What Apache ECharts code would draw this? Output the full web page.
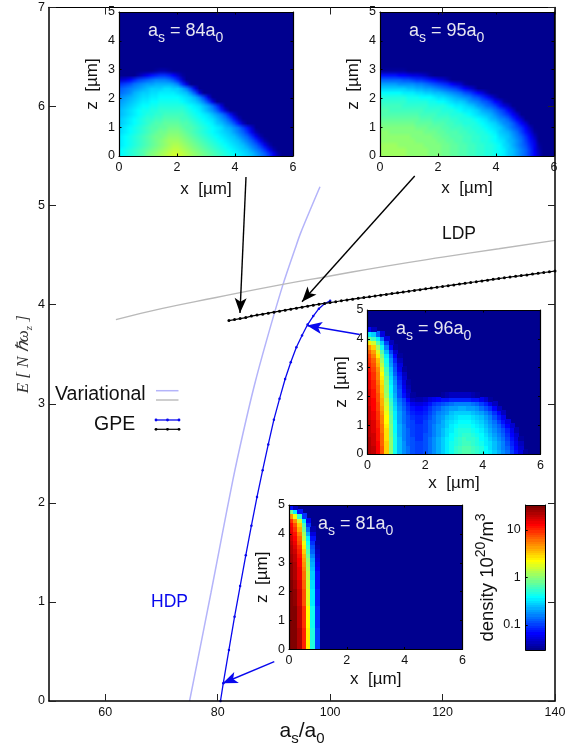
<!DOCTYPE html>
<html><head><meta charset="utf-8">
<style>html,body{margin:0;padding:0;background:#fff}#c{width:566px;height:747px}</style>
<script src="https://cdn.jsdelivr.net/npm/echarts@6/dist/echarts.min.js"></script>
</head><body><div id="c"></div>
<script>
// ---- main curves (scattering length a_s/a_0, energy)
const variationalHdpX=[75,76.4,78.8,80.7,82.7,84.5,86.5,88.7,91.6,93.8,94.8,98.2];
const variationalHdpY=[0,0.4,1.09,1.65,2.23,2.7,3.18,3.64,4.2,4.57,4.73,5.19];
const variationalLdpX=[61.9,70,79.5,91.1,100,110,120,130,140];
const variationalLdpY=[3.85,3.96,4.07,4.2,4.29,4.39,4.48,4.565,4.65];
const gpeHdpX=[80.5,81,82,83,84,85,86,87,88,89,90,91,92,93,94,95,96,97,98,99,100];
const gpeHdpY=[0,0.18,0.515,0.85,1.16,1.47,1.77,2.06,2.33,2.59,2.84,3.05,3.25,3.42,3.57,3.69,3.8,3.885,3.96,4.01,4.04];
const gpeLdpX=[82,83,84,85,86,87,88,89,90,91,92,93,94,95,96,97,98,99,100,101,102,103,104,105,106,107,108,109,110,111,112,113,114,115,116,117,118,119,120,121,122,123,124,125,126,127,128,129,130,131,132,133,134,135,136,137,138,139,140];
const gpeLdpY=[3.84,3.85,3.86,3.87,3.885,3.895,3.905,3.915,3.925,3.935,3.945,3.955,3.965,3.975,3.985,3.995,4.005,4.013,4.022,4.03,4.04,4.048,4.056,4.064,4.072,4.08,4.088,4.096,4.104,4.112,4.12,4.128,4.136,4.144,4.152,4.16,4.168,4.176,4.184,4.192,4.2,4.208,4.216,4.224,4.232,4.24,4.248,4.256,4.264,4.272,4.28,4.287,4.294,4.301,4.309,4.317,4.325,4.332,4.34];
const xTicks=[60,80,100,120,140];
const colorbarTickExponents=[-1,0,1];
const colorbarTickLabels=['0.1','1','10'];
const colorbarLevels=[0,1,2,3,4,5,6,7,8,9,10,11,12,13,14,15,16,17,18,19,20,21,22,23,24,25,26,27,28,29,30,31,32,33,34,35,36,37,38,39,40,41,42,43,44,45,46,47,48,49,50,51,52,53,54,55,56,57,58,59,60,61,62,63];
// ---- arrows: [from a_s, from E, to a_s, to E]
const blackArrows=[[85.04,5.29,83.97,3.916],[115.05,5.30,95.0,4.03]];
const blueArrows=[[105.27,3.70,95.9,3.79],[90.07,0.397,80.9,0.179]];
// ---- density maps: colour level (0..63) per row from z=0 upward, per column from x=0; omitted cells are level 0
const density84=[
[23,24,25,26,27,28,30,31,32,33,34,35,36,36,35,34,33,32,31,30,29,28,27,26,25,24,23,22,21,20,19,17,15,13,10,6,2],
[23,24,25,26,27,28,29,30,31,32,33,34,35,35,34,33,32,31,30,29,28,27,26,25,24,23,22,21,20,19,17,15,13,10,6,2],
[22,23,24,25,26,27,28,29,30,31,32,33,34,34,33,32,31,30,29,28,27,26,25,24,23,22,21,20,19,17,15,13,10,6,2],
[22,23,24,25,26,27,28,29,30,31,32,33,33,33,32,31,30,29,28,27,26,25,24,23,22,21,20,19,17,15,13,10,6,2],
[22,23,24,25,26,27,28,29,30,30,31,32,32,32,31,30,29,28,27,26,25,24,23,22,21,20,19,17,15,13,10,6,2],
[21,22,23,24,25,26,27,28,29,30,30,31,31,31,30,29,28,27,26,25,24,23,22,21,20,19,17,15,13,10,6,2],
[21,22,23,24,25,26,27,28,28,29,29,30,30,30,29,28,28,27,26,25,24,23,22,21,19,18,16,14,11,8,4],
[20,21,22,23,24,25,26,27,28,28,29,29,29,29,28,28,27,26,25,24,23,22,20,19,17,15,12,8,3],
[20,21,22,23,24,25,26,26,27,27,28,28,28,28,27,27,26,25,24,23,22,21,19,17,15,12,8,3],
[19,20,21,22,23,24,25,25,26,26,27,27,27,27,27,26,25,24,23,22,21,19,17,15,12,8,3],
[19,20,21,22,23,24,24,25,25,26,26,26,26,26,26,25,24,23,22,20,18,16,13,9,4],
[18,19,20,21,22,23,23,24,24,25,25,25,25,25,25,24,23,22,21,19,17,14,10,5],
[17,18,19,20,21,22,22,23,23,24,24,24,24,24,23,22,21,20,18,15,11,5],
[16,17,18,19,20,21,21,22,22,23,23,23,23,23,22,21,20,18,15,11,5],
[14,15,16,18,19,20,20,21,21,22,22,22,22,21,20,19,16,12,5],
[13,14,15,16,17,18,19,20,20,20,21,21,20,20,18,15,11,5],
[10,11,12,14,15,16,17,17,18,18,18,18,17,15,10,5],
[4,5,7,9,11,12,13,14,15,15,15,14,12,9,4],
[0,0,0,0,2,4,6,8,9,10,10,9,7,4,1],
[0,0,0,0,0,0,0,0,1,2,2,1]
];
const density95=[
[33,33,33,33,33,33,32,32,32,32,32,31,31,31,30,30,29,29,28,28,27,27,26,26,25,25,24,23,22,20,19,17,15,13,10,7,3],
[33,33,33,33,33,33,32,32,32,32,32,31,31,31,30,30,29,29,28,28,27,27,26,26,25,25,24,23,22,20,19,17,15,13,10,6,2],
[33,33,33,33,32,32,32,32,32,32,31,31,31,31,30,30,29,29,28,28,27,27,26,26,25,25,24,23,21,20,18,16,14,12,9,6,1],
[32,32,32,32,32,32,32,32,31,31,31,31,31,30,30,29,29,28,28,27,27,26,26,25,25,24,23,22,21,19,18,16,14,11,8,5],
[32,32,32,32,32,32,32,31,31,31,31,31,30,30,29,29,28,28,28,27,27,26,26,25,25,24,23,21,20,19,17,15,13,10,7,3],
[32,32,31,31,31,31,31,31,31,31,30,30,30,29,29,28,28,28,27,27,26,26,25,25,24,23,22,20,19,18,16,14,11,8,5,1],
[31,31,31,31,31,31,31,31,30,30,30,29,29,29,28,28,27,27,27,26,26,25,25,24,23,22,21,20,18,16,14,12,10,7,3],
[30,30,30,30,30,30,30,30,29,29,29,29,28,28,28,27,27,26,26,25,25,25,24,23,22,21,20,18,16,15,13,10,7,4],
[29,29,29,29,29,29,29,29,29,28,28,28,27,27,27,27,26,26,25,25,25,24,23,22,21,19,18,16,15,13,10,7,4],
[28,28,28,28,28,28,28,28,28,27,27,27,27,26,26,26,25,25,25,24,23,22,21,20,19,18,16,14,12,10,7,4],
[28,28,27,27,27,27,27,27,27,27,26,26,26,26,25,25,25,24,23,22,22,21,20,18,17,16,14,12,10,7,4],
[27,27,27,27,27,26,26,26,26,26,26,25,25,25,25,24,23,22,22,21,20,19,17,16,14,13,11,8,5,3],
[26,26,26,26,26,26,25,25,25,25,25,24,24,23,23,22,21,20,20,19,17,16,15,13,12,10,7,5,1],
[25,25,25,25,25,25,24,24,24,23,23,23,22,21,21,20,19,18,17,16,15,13,12,10,8,5,2],
[23,23,23,23,23,22,22,22,21,21,20,20,19,19,18,17,16,15,14,12,11,9,7,5,2],
[20,20,20,20,20,20,19,19,18,18,17,17,16,15,14,13,12,11,9,7,5,3],
[17,17,17,17,16,16,16,16,15,15,14,13,12,11,10,9,7,5,4,1],
[13,13,13,13,13,12,12,11,10,10,9,8,7,5,4,2],
[8,8,8,8,7,7,6,5,5,4,3,1],
[1,1,1,1,1,1]
];
const density96=[
[60,59,55,50,42,32,24,19,16,14,12,11,11,12,14,16,18,20,22,24,26,27,28,28,27,26,25,23,22,20,18,16,14,11,8,5,1],
[60,59,55,50,42,32,24,19,16,14,12,11,11,12,14,16,18,20,22,24,26,27,28,28,27,26,25,23,21,19,17,15,13,10,7,4],
[60,58,55,49,42,32,24,19,16,13,12,11,11,12,14,16,18,20,22,24,25,26,27,27,26,25,24,22,21,19,17,15,12,9,6,3],
[60,58,54,49,41,32,24,19,15,13,12,10,10,12,14,16,18,20,22,23,25,26,27,26,26,25,23,22,20,18,16,14,11,8,5,1],
[59,58,54,49,41,31,24,18,15,13,11,10,10,12,13,15,17,19,21,23,24,25,26,26,25,24,23,21,19,17,15,13,10,7,4],
[59,57,54,48,41,31,23,18,15,13,11,10,10,11,13,15,17,19,21,22,24,25,25,25,24,23,22,20,18,16,14,12,9,6,2],
[59,57,53,48,40,31,23,18,15,12,11,10,10,11,13,15,17,18,20,22,23,24,24,24,23,22,21,19,17,15,13,10,7,4],
[59,57,53,47,39,30,23,17,14,12,11,9,9,11,13,14,16,18,20,21,22,23,23,23,22,21,20,18,16,14,11,8,5],
[58,56,52,47,39,30,22,17,14,12,10,9,9,10,12,14,16,17,19,20,21,22,22,22,21,20,19,17,15,12,9,6],
[58,56,52,46,38,29,22,17,14,11,9,8,8,9,11,13,15,16,17,19,20,20,20,20,19,18,17,15,13,10,7,3],
[58,55,51,45,37,28,21,16,13,10,8,7,7,8,10,12,13,15,16,17,17,18,18,17,17,16,14,12,10,7,3],
[57,55,51,44,36,27,20,15,12,9,6,5,5,6,8,10,11,12,13,14,15,15,15,15,14,13,11,9,6,3],
[57,55,50,44,35,26,19,14,11,7,3,2,2,3,5,6,7,8,8,9,9,9,9,9,8,8,6,4,1],
[57,54,50,43,33,24,18,12,8,4,1,0,0,0,0,0,0,1,2,3,3,3,3,3,2,1],
[57,54,49,42,32,23,17,12,7,3],
[56,53,49,42,32,23,17,11,6,2],
[56,53,48,41,31,22,16,10,5,1],
[55,52,47,40,30,21,15,9,4],
[55,52,47,39,28,20,13,8,3],
[54,51,46,37,27,19,12,6,1],
[53,50,44,35,25,17,11,5],
[52,49,43,33,24,16,9,3],
[51,47,40,31,22,14,7,1],
[49,45,37,28,19,11,4],
[46,42,33,24,15,7,1],
[40,36,28,20,11,3],
[30,27,22,14,5],
[22,20,13,5],
[7,3]
];
const density81=[
[63,63,60,53,40,25,11],[63,63,60,53,40,25,11],[63,63,60,53,40,25,11],[63,63,60,53,40,25,11],[63,63,60,53,40,25,11],
[63,63,59,52,39,24,10],[63,63,59,52,39,24,10],[63,63,59,52,39,24,10],[63,63,59,52,39,24,10],[63,63,59,52,39,24,10],
[63,62,58,50,37,22,9],[63,62,58,50,37,22,9],[63,62,58,50,37,22,9],[63,62,58,50,37,22,9],
[63,61,57,49,36,21,8],[63,61,57,49,36,21,8],
[62,60,56,48,35,20,8],[62,60,56,48,35,20,8],
[62,60,56,47,34,19,7],[62,60,55,46,33,18,6],[61,59,55,45,32,17,5],[61,59,54,44,30,15,4],[60,58,53,42,28,13,3],[60,57,52,40,26,12,2],
[59,56,50,38,24,10,1],[58,55,49,35,22,8],[57,54,47,33,18,5],[56,52,44,30,14,2],[55,50,42,28,10],[52,46,36,22,6],[46,38,26,10],[30,22,8],[8,3]
];

// ---- layout & style
const fontSans='"Liberation Sans", Arial, sans-serif';
const insets=[
 {rows:density84,smooth:true,left:119,top:12,w:174,h:144,label:'84',labelX:148,labelY:22,nameGap:25},
 {rows:density95,smooth:true,left:380,top:12,w:174,h:144,label:'95',labelX:409,labelY:22,nameGap:24},
 {rows:density96,smooth:false,left:367.5,top:310,w:173,h:144,label:'96',labelX:396,labelY:320,nameGap:21},
 {rows:density81,smooth:false,left:289,top:505,w:173.5,h:144.5,label:'81',labelX:318,labelY:515,nameGap:21}
];
const COLS=40, ROWS=33, CELL_DX=6/COLS, CELL_DZ=5/ROWS;
function jet(L){
  const v=(L+1)/64;
  const c=(a)=>Math.round(255*Math.max(0,Math.min(1,a)));
  return 'rgb('+c(Math.min(4*v-1.5,-4*v+4.5))+','+c(Math.min(4*v-0.5,-4*v+3.5))+','+c(Math.min(4*v+0.5,-4*v+2.5))+')';
}
const toPairs=(xs,ys)=>xs.map((x,i)=>[x,ys[i]]);
const arrowData=list=>list.map(a=>[{coord:[a[0],a[1]]},{coord:[a[2],a[3]]}]);
function mapCanvas(rows){
  const cv=document.createElement('canvas'); cv.width=COLS; cv.height=ROWS;
  const g=cv.getContext('2d');
  g.fillStyle=jet(0); g.fillRect(0,0,COLS,ROWS);
  rows.forEach((row,r)=>row.forEach((L,c)=>{ g.fillStyle=jet(L); g.fillRect(c,ROWS-1-r,1,1); }));
  return cv;
}

const grid=[{left:49,top:7.5,width:506,height:693.5,outerBoundsMode:'none'}];
const xAxis=[
 {gridIndex:0,type:'value',min:50,max:140,position:'bottom',z:6,splitLine:{show:false},
  axisLine:{onZero:false,lineStyle:{color:'#000',width:1.5}},
  axisTick:{inside:true,length:7,customValues:xTicks,lineStyle:{color:'#222',width:1}},
  axisLabel:{customValues:xTicks,color:'#111',fontFamily:fontSans,fontSize:12.5,margin:5},
  name:'{m|a}{s|s}{m|/a}{s|0}',nameLocation:'middle',nameGap:15,nameMoveOverlap:false,
  nameTextStyle:{rich:{m:{fontFamily:fontSans,fontSize:21,color:'#111',lineHeight:30},s:{fontFamily:fontSans,fontSize:15,color:'#111',verticalAlign:'bottom'}}}},
 {gridIndex:0,type:'value',min:50,max:140,position:'top',z:6,splitLine:{show:false},
  axisLine:{onZero:false,lineStyle:{color:'#000',width:1.2}},
  axisTick:{inside:true,length:7,customValues:xTicks,lineStyle:{color:'#222',width:1}},
  axisLabel:{show:false}}
];
const yAxis=[
 {gridIndex:0,type:'value',min:0,max:7,interval:1,position:'left',z:6,splitLine:{show:false},
  axisLine:{show:true,onZero:false,lineStyle:{color:'#000',width:1.5}},
  axisTick:{show:true,inside:true,length:7,lineStyle:{color:'#222',width:1}},
  axisLabel:{color:'#111',fontFamily:fontSans,fontSize:12.5,margin:4},
  name:'{i|E [ N \u210F\u03C9}{s|z}{i| ]}',nameLocation:'middle',nameGap:14,nameRotate:90,nameMoveOverlap:false,
  nameTextStyle:{rich:{i:{fontFamily:'"Liberation Serif", serif',fontStyle:'italic',fontSize:17,color:'#333',lineHeight:22},s:{fontFamily:'"Liberation Serif", serif',fontStyle:'italic',fontSize:11,color:'#333',verticalAlign:'bottom'}}}},
 {gridIndex:0,type:'value',min:0,max:7,interval:1,position:'right',z:6,splitLine:{show:false},
  axisLine:{show:true,onZero:false,lineStyle:{color:'#000',width:1.5}},
  axisTick:{show:true,inside:true,length:7,lineStyle:{color:'#222',width:1}},
  axisLabel:{show:false}}
];
const series=[
 {type:'line',name:'Variational HDP',xAxisIndex:0,yAxisIndex:0,data:toPairs(variationalHdpX,variationalHdpY),smooth:0.3,showSymbol:false,lineStyle:{color:'#b4b4fa',width:1.5},z:2},
 {type:'line',name:'Variational LDP',xAxisIndex:0,yAxisIndex:0,data:toPairs(variationalLdpX,variationalLdpY),smooth:0.5,showSymbol:false,lineStyle:{color:'#b9b9b9',width:1.4},z:2},
 {type:'line',name:'GPE HDP',xAxisIndex:0,yAxisIndex:0,data:toPairs(gpeHdpX,gpeHdpY),showSymbol:true,symbol:'circle',symbolSize:2.5,itemStyle:{color:'#0808ee'},lineStyle:{color:'#0808ee',width:1.3},z:3,
  markLine:{silent:true,symbol:['none','arrow'],symbolSize:[9,15],label:{show:false},lineStyle:{color:'#0808ee',width:1.4,type:'solid'},data:arrowData(blueArrows)}},
 {type:'line',name:'GPE LDP',xAxisIndex:0,yAxisIndex:0,data:toPairs(gpeLdpX,gpeLdpY),showSymbol:true,symbol:'circle',symbolSize:3,itemStyle:{color:'#000'},lineStyle:{color:'#000',width:1.2},z:3,
  markLine:{silent:true,symbol:['none','arrow'],symbolSize:[9,15],label:{show:false},lineStyle:{color:'#000',width:1.4,type:'solid'},data:arrowData(blackArrows)}}
];
function renderCell(params,api){
  const x=api.value(0), z=api.value(1);
  const a=api.coord([x,z]), b=api.coord([x+CELL_DX,z+CELL_DZ]);
  const L=Math.floor(Math.min(a[0],b[0])), R=Math.ceil(Math.max(a[0],b[0]));
  const T=Math.floor(Math.min(a[1],b[1])), B=Math.ceil(Math.max(a[1],b[1]));
  return {type:'rect',shape:{x:L,y:T,width:R-L,height:B-T},style:{fill:jet(api.value(2))}};
}
function renderSmooth(canvas){
  return (params,api)=>{
    if(params.dataIndex!==0) return null;
    const a=api.coord([0,0]), b=api.coord([6,5]);
    return {type:'image',style:{image:canvas,x:a[0],y:b[1],width:b[0]-a[0],height:a[1]-b[1]}};
  };
}
function insetAxes(gi,nameGap){
  const tick={show:true,inside:true,length:2.5,lineStyle:{color:'#000',width:1}};
  const line={show:true,onZero:false,lineStyle:{color:'#000',width:1.2}};
  const lab={color:'#111',fontFamily:fontSans,fontSize:12.5};
  const unit={fontFamily:fontSans,fontSize:17,color:'#111'};
  xAxis.push({gridIndex:gi,type:'value',min:0,max:6,interval:2,position:'bottom',z:7,splitLine:{show:false},axisLine:line,axisTick:tick,
    axisLabel:Object.assign({margin:5},lab),name:'x  [\u00B5m]',nameLocation:'middle',nameGap:nameGap,nameMoveOverlap:false,nameTextStyle:unit});
  xAxis.push({gridIndex:gi,type:'value',min:0,max:6,interval:2,position:'top',z:7,splitLine:{show:false},axisLine:line,axisTick:tick,axisLabel:{show:false}});
  yAxis.push({gridIndex:gi,type:'value',min:0,max:5,interval:1,position:'left',z:7,splitLine:{show:false},axisLine:line,axisTick:tick,
    axisLabel:Object.assign({margin:4},lab),name:'z  [\u00B5m]',nameLocation:'middle',nameGap:18,nameRotate:90,nameMoveOverlap:false,nameTextStyle:unit});
  yAxis.push({gridIndex:gi,type:'value',min:0,max:5,interval:1,position:'right',z:7,splitLine:{show:false},axisLine:line,axisTick:tick,axisLabel:{show:false}});
}
insets.forEach((ins,i)=>{
  const gi=i+1, xi=xAxis.length, yi=yAxis.length;
  grid.push({left:ins.left,top:ins.top,width:ins.w,height:ins.h,show:true,backgroundColor:jet(0),borderWidth:0,outerBoundsMode:'none'});
  insetAxes(gi,ins.nameGap);
  const data=[];
  ins.rows.forEach((row,r)=>row.forEach((L,c)=>{ if(L>0) data.push([c*CELL_DX,r*CELL_DZ,L]); }));
  series.push({type:'custom',xAxisIndex:xi,yAxisIndex:yi,coordinateSystem:'cartesian2d',data:data,
    renderItem:ins.smooth?renderSmooth(mapCanvas(ins.rows)):renderCell,clip:true,silent:true,z:4,encode:{x:0,y:1}});
});
// colorbar
{
  const gi=grid.length, xi=xAxis.length, yi=yAxis.length;
  grid.push({left:525.7,top:505,width:19.6,height:145,show:false,outerBoundsMode:'none'});
  const edge={show:true,onZero:false,lineStyle:{color:'#000',width:1}};
  xAxis.push({gridIndex:gi,type:'value',min:0,max:1,position:'bottom',z:7,splitLine:{show:false},axisLine:edge,axisTick:{show:false},axisLabel:{show:false}});
  xAxis.push({gridIndex:gi,type:'value',min:0,max:1,position:'top',z:7,splitLine:{show:false},axisLine:edge,axisTick:{show:false},axisLabel:{show:false}});
  yAxis.push({gridIndex:gi,type:'value',min:-1.525,max:1.525,position:'left',z:7,splitLine:{show:false},axisLine:edge,
    axisTick:{show:true,inside:true,length:2,customValues:colorbarTickExponents,lineStyle:{color:'#000'}},
    axisLabel:{customValues:colorbarTickExponents,margin:5,color:'#111',fontFamily:fontSans,fontSize:12.5,
      formatter:v=>colorbarTickLabels[colorbarTickExponents.indexOf(v)]},
    name:'{m|density 10}{u|20}{m|/m}{u|3}',nameLocation:'middle',nameGap:24,nameRotate:90,nameMoveOverlap:false,
    nameTextStyle:{rich:{m:{fontFamily:fontSans,fontSize:18.5,color:'#111',lineHeight:28},u:{fontFamily:fontSans,fontSize:14,color:'#111',verticalAlign:'top'}}}});
  yAxis.push({gridIndex:gi,type:'value',min:0,max:64,position:'right',z:7,splitLine:{show:false},axisLine:edge,axisTick:{show:false},axisLabel:{show:false}});
  series.push({type:'custom',xAxisIndex:xi,yAxisIndex:yi+1,coordinateSystem:'cartesian2d',silent:true,z:4,clip:true,
    data:colorbarLevels.map(L=>[L]),encode:{y:0},
    renderItem:(p,api)=>{const L=api.value(0),a=api.coord([0,L]),b=api.coord([1,L+1]);
      return {type:'rect',shape:{x:a[0],y:Math.floor(b[1]),width:b[0]-a[0],height:Math.ceil(a[1])-Math.floor(b[1])},style:{fill:jet(L)}};}});
}
// annotations
const annotationRich={m:{fontFamily:fontSans,fontSize:18,fill:'#e6e6f0',lineHeight:28},s:{fontFamily:fontSans,fontSize:14,fill:'#e6e6f0',verticalAlign:'bottom'}};
const graphic=[];
insets.forEach(ins=>graphic.push({type:'text',left:ins.labelX,top:ins.labelY,z:20,style:{text:'{m|a}{s|s}{m| = '+ins.label+'a}{s|0}',rich:annotationRich}}));
const plain=(text,x,y,size,fill)=>({type:'text',x:x,y:y,z:20,style:{text:text,fontFamily:fontSans,fontSize:size,fill:fill}});
graphic.push(plain('LDP',442,225,17.5,'#111'));
graphic.push(plain('HDP',151,593,17.5,'#0808ee'));
graphic.push(plain('Variational',55,385,19.5,'#111'));
graphic.push(plain('GPE',94,415,19.5,'#111'));
const keyLine=(y,color,w)=>({type:'line',z:20,shape:{x1:156,y1:y,x2:178.5,y2:y},style:{stroke:color,lineWidth:w}});
const keyDot=(x,y,color)=>({type:'circle',z:20,shape:{cx:x,cy:y,r:1.4},style:{fill:color}});
graphic.push(keyLine(390.7,'#b4b4fa',1.5),keyLine(400,'#b9b9b9',1.4),keyLine(420,'#0808ee',1.3),keyLine(429.3,'#000',1.2));
[156,167.5,179].forEach(x=>graphic.push(keyDot(x,420,'#0808ee'),keyDot(x,429.3,'#000')));

const chart=echarts.init(document.getElementById('c'),null,{renderer:'canvas'});
chart.setOption({animation:false,backgroundColor:'#fff',grid,xAxis,yAxis,series,graphic});
</script></body></html>
